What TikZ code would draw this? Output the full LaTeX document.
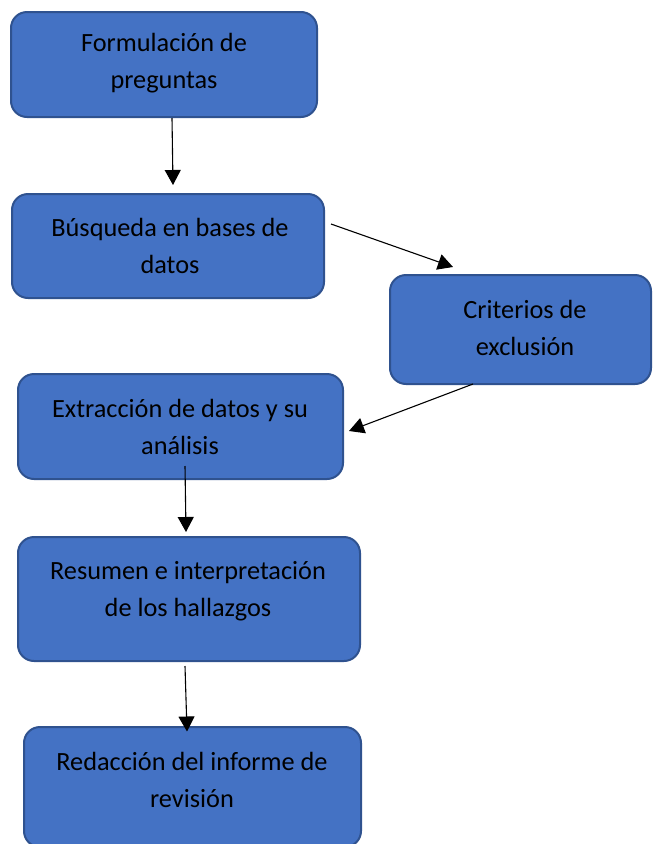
\documentclass[tikz,border=0pt]{standalone}
\usepackage{fontspec}
\setmainfont{Carlito}
\usetikzlibrary{arrows.meta,calc}
\definecolor{boxfill}{HTML}{4472C4}
\definecolor{boxline}{HTML}{2F528F}
\tikzset{
  box/.style={draw=boxline, fill=boxfill, line width=2pt, rounded corners=16pt, inner sep=0pt},
  lbl/.style={align=center, font=\fontsize{26.3}{37}\selectfont, text=black, inner sep=0pt},
  conn/.style={draw=black, line width=1.1pt, -{Triangle[length=15pt,width=16pt]}}
}
\begin{document}
\begin{tikzpicture}[x=1pt,y=-1pt]
\useasboundingbox (0,0) rectangle (653,844);
% boxes
\node[box, minimum width=306pt, minimum height=105pt] (a) at (164,64.5) {};
\node[box, minimum width=312pt, minimum height=104pt] (b) at (168,246) {};
\node[box, minimum width=261pt, minimum height=109pt] (c) at (520.5,329.5) {};
\node[box, minimum width=325pt, minimum height=105pt] (d) at (180.5,426.5) {};
\node[box, minimum width=342pt, minimum height=124pt] (e) at (189,599) {};
\node[box, minimum width=337pt, minimum height=120pt] (f) at (192.5,787) {};
% labels
\node[lbl] (ta) at (164,63.5) {Formulación de\\preguntas};
\node[lbl] (tb) at (170,246) {Búsqueda en bases de\\datos};
\node[lbl] (tc) at (525,327.5) {Criterios de\\exclusión};
\node[lbl] (td) at (180,427) {Extracción de datos y su\\análisis};
\node[lbl] (te) at (188,591) {Resumen e interpretación\\de los hallazgos};
\node[lbl] (tf) at (192,780) {Redacción del informe de\\revisión};
% connectors
\draw[conn] ($(a.south)+(8,0)$) -- ($(b.north)+(5,-8)$);
\draw[conn] ($(b.east)+(6,-22)$) -- ($(c.north)+(-67.5,-7)$);
\draw[conn] ($(c.south)+(-47.5,-1)$) -- ($(d.east)+(5,4.5)$);
\draw[conn] ($(d.south)+(4.5,-14)$) -- ($(e.north)+(-3,-4)$);
\draw[conn] ($(e.south)+(-4,4)$) -- ($(f.north)+(-5.5,5.5)$);
\end{tikzpicture}
\end{document}
